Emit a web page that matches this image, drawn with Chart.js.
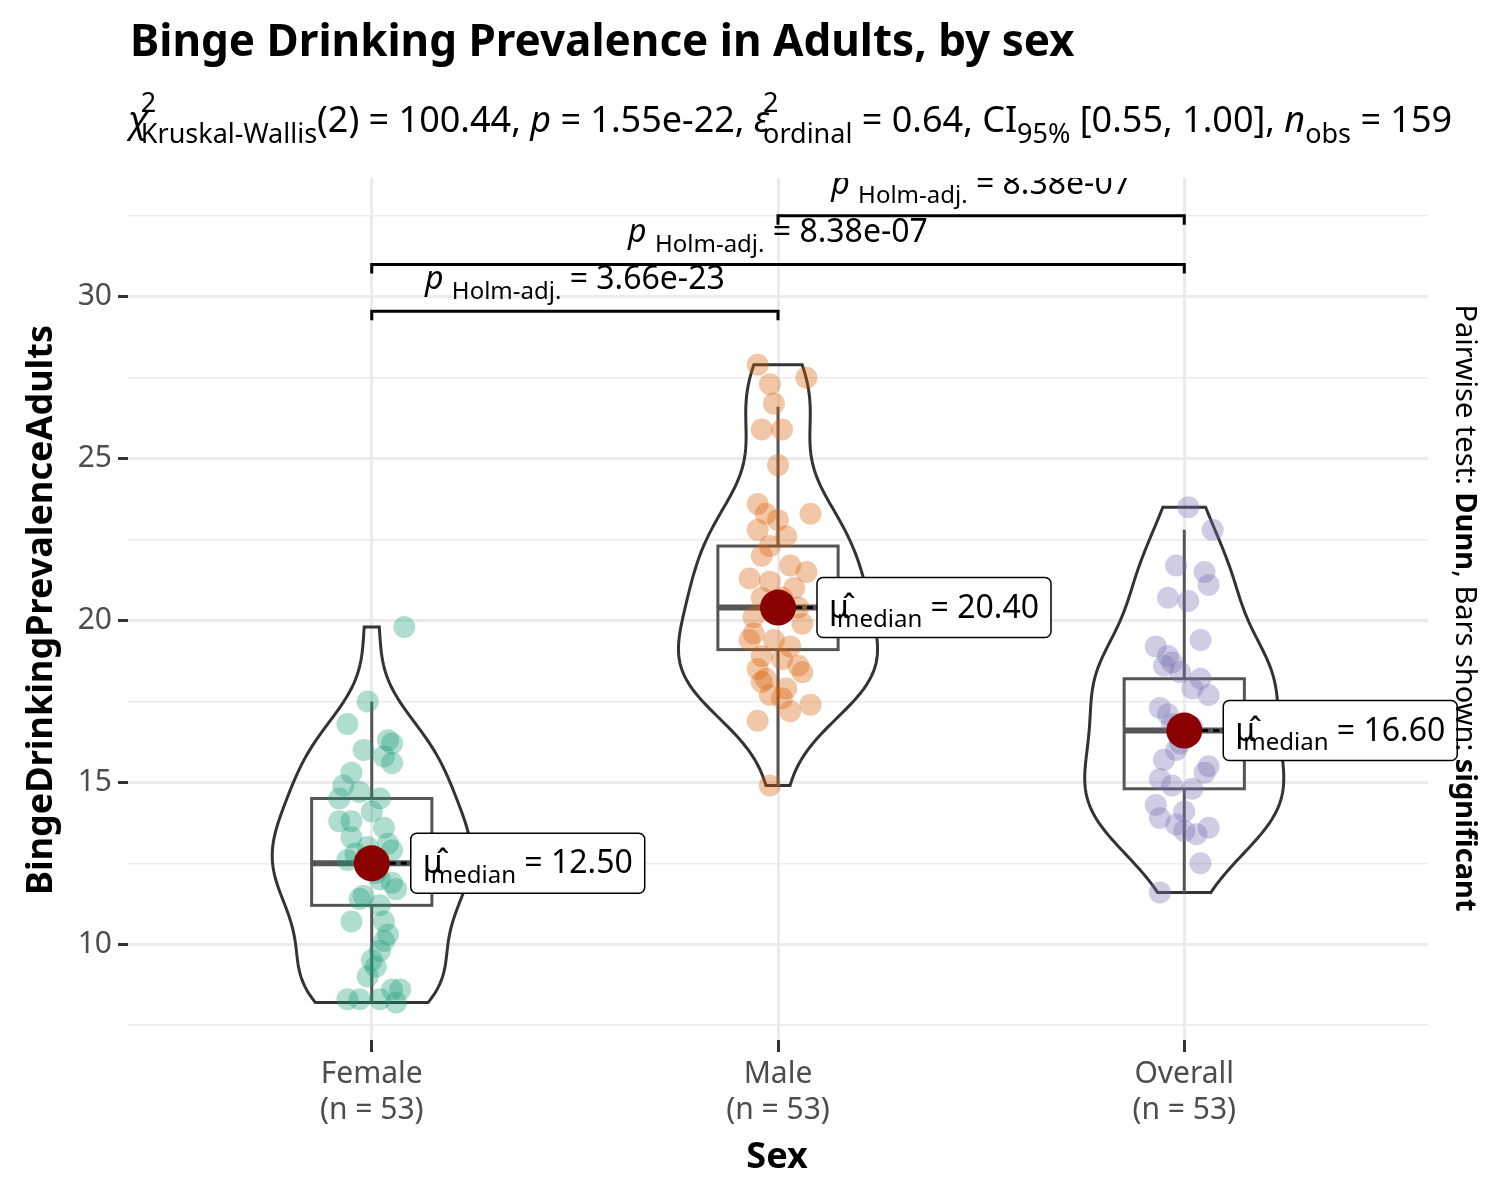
<!DOCTYPE html>
<html><head><meta charset="utf-8">
<script src="https://cdn.jsdelivr.net/npm/chart.js@4.4.1/dist/chart.umd.min.js"></script>
<style>html,body{margin:0;padding:0;background:#fff}#w{width:1500px;height:1200px}</style>
</head><body><div id="w"><canvas id="c"></canvas></div>
<script>
const categories = ['Female','Male','Overall'];
const counts = [53,53,53];
const femaleVals = [19.8,17.5,16.8,16.3,16.0,15.6,15.3,14.9,14.5,14.5,14.1,13.8,13.8,13.6,13.3,13.0,12.9,12.6,12.3,12.0,11.7,11.5,11.2,10.7,10.7,10.3,9.8,9.5,9.3,9.0,8.6,8.6,8.3,8.3,8.2,8.3,16.2,15.8,14.7,13.1,12.8,12.2,11.9,11.4,10.1];
const femaleJit = [0.08,-0.01,-0.06,0.04,-0.02,0.05,-0.05,-0.07,-0.08,0.02,0,-0.05,-0.08,0.03,-0.05,-0.01,0.05,-0.06,0,0.02,0.06,-0.02,0.02,-0.05,0.03,0.04,0.02,0,0.01,-0.01,0.07,0.05,-0.06,-0.03,0.06,0.02,0.05,0.03,-0.03,0.04,-0.04,0.01,0.05,-0.03,0.03];
const maleVals = [27.9,27.5,27.3,26.7,25.9,25.9,24.8,23.6,23.3,23.3,23.1,22.8,22.3,22.0,21.7,21.3,21.2,21.5,20.7,20.7,20.1,19.9,19.4,19.4,19.2,18.9,18.8,18.5,18.4,18.2,18.1,17.9,17.6,17.4,17.2,16.9,14.9,20.4,19.6,21.0,22.6,18.6,17.7];
const maleJit = [-0.05,0.07,-0.02,-0.01,-0.04,0.01,0,-0.05,-0.03,0.08,0,-0.05,-0.02,-0.04,0.03,-0.07,-0.02,0.07,-0.04,0.01,-0.06,0.06,-0.07,-0.01,0.03,-0.04,0.01,-0.05,0.06,-0.03,-0.04,0.02,0.01,0.08,0.03,-0.05,-0.02,0.05,-0.06,0.04,0.02,0.05,-0.02];
const overallVals = [23.5,22.8,21.7,21.5,21.1,20.7,20.6,19.4,19.2,18.9,18.6,18.4,18.2,17.9,17.7,17.3,16.8,16.7,16.2,15.7,15.5,15.1,14.9,14.8,14.3,13.9,13.7,13.6,13.4,13.5,12.5,11.6,18.7,17.1,16.0,15.3,14.1];
const overallJit = [0.01,0.07,-0.02,0.05,0.06,-0.04,0.01,0.04,-0.07,-0.04,-0.05,-0.01,0.04,0.02,0.06,-0.06,-0.03,0.02,-0.01,-0.05,0.06,-0.06,-0.03,0.02,-0.07,-0.06,-0.02,0.06,0.03,0,0.04,-0.06,-0.03,-0.04,-0.02,0.05,0.0];
const groupVals = [femaleVals, maleVals, overallVals];
const groupJit = [femaleJit, maleJit, overallJit];
const medians = [12.5,20.4,16.6];
const q1s = [11.2,19.1,14.8];
const q3s = [14.5,22.3,18.2];
const whiskLo = [8.2,14.9,11.6];
const whiskHi = [17.5,26.6,22.8];
const medianLabels = ['12.50','20.40','16.60'];
const pairs = [[1,2,29.55,'3.66e-23'],[1,3,31.0,'8.38e-07'],[2,3,32.5,'8.38e-07']];
const colors = ['27,158,119','217,95,2','117,112,179'];
const yTicks = [7.5,10,12.5,15,17.5,20,22.5,25,27.5,30,32.5];
const FONT = '"Noto Sans", "Open Sans", sans-serif';

const scatterSets = groupVals.map((vals,g)=>({
  type:'scatter',
  data: vals.map((v,i)=>({x:g+1+groupJit[g][i], y:v})),
  backgroundColor:`rgba(${colors[g]},0.35)`, borderWidth:0, pointRadius:11, order:2
}));
const meanSet = {type:'scatter', data: medians.map((m,i)=>({x:i+1,y:m})), backgroundColor:'#8b0000', borderWidth:0, pointRadius:18, order:1};

function rich(ctx, x, y, parts, size){
  for(const p of parts){
    if(p.ss){
      const s = size*0.75;
      ctx.font = `${s}px ${FONT}`;
      const w1 = p.sup? ctx.measureText(p.sup).width:0;
      const w2 = p.sub? ctx.measureText(p.sub).width:0;
      if(p.sup) ctx.fillText(p.sup, x - (p.back||0), y - size*0.55);
      if(p.sub) ctx.fillText(p.sub, x - (p.back||0), y + size*0.3);
      x += Math.max(w1,w2) - (p.back||0);
    } else {
      ctx.font = `${p.it?'italic ':''}${p.b?'bold ':''}${size}px ${FONT}`;
      ctx.fillText(p.t, x, y);
      x += ctx.measureText(p.t).width;
    }
  }
  return x;
}
function richWidth(ctx, parts, size){
  const c = document.createElement('canvas').getContext('2d');
  return rich(c, 0, 0, parts, size);
}

const drawPlugin = {
  id:'violins',
  beforeDatasetsDraw(chart){
    const ctx = chart.ctx, xs = chart.scales.x, ys = chart.scales.y;
    ctx.save();
    groupVals.forEach((vals,g)=>{
      const n = vals.length, mean = vals.reduce((a,b)=>a+b,0)/n;
      const sd = Math.sqrt(vals.reduce((a,b)=>a+(b-mean)**2,0)/(n-1));
      const h = 0.85*sd*Math.pow(n,-0.2);
      const lo = Math.min(...vals), hi = Math.max(...vals);
      const pts = [];
      for(let k=0;k<=100;k++){
        const y = lo+(hi-lo)*k/100;
        let d=0; vals.forEach(v=>d+=Math.exp(-0.5*((y-v)/h)**2));
        pts.push([y,d]);
      }
      const mx = Math.max(...pts.map(p=>p[1]));
      const half = 0.245;
      ctx.beginPath();
      pts.forEach((p,k)=>{const px=xs.getPixelForValue(g+1+half*p[1]/mx), py=ys.getPixelForValue(p[0]); k?ctx.lineTo(px,py):ctx.moveTo(px,py);});
      for(let k=pts.length-1;k>=0;k--){const p=pts[k]; ctx.lineTo(xs.getPixelForValue(g+1-half*p[1]/mx), ys.getPixelForValue(p[0]));}
      ctx.closePath();
      ctx.strokeStyle='#333'; ctx.lineWidth=3; ctx.stroke();
      const bw=0.148, cx=xs.getPixelForValue(g+1);
      const l=xs.getPixelForValue(g+1-bw), r=xs.getPixelForValue(g+1+bw);
      ctx.strokeStyle='#555'; ctx.lineWidth=3;
      ctx.beginPath();
      ctx.moveTo(cx,ys.getPixelForValue(whiskLo[g])); ctx.lineTo(cx,ys.getPixelForValue(q1s[g]));
      ctx.moveTo(cx,ys.getPixelForValue(q3s[g])); ctx.lineTo(cx,ys.getPixelForValue(whiskHi[g]));
      ctx.stroke();
      ctx.strokeRect(l, ys.getPixelForValue(q3s[g]), r-l, ys.getPixelForValue(q1s[g])-ys.getPixelForValue(q3s[g]));
      ctx.lineWidth=6; ctx.beginPath();
      ctx.moveTo(l,ys.getPixelForValue(medians[g])); ctx.lineTo(r,ys.getPixelForValue(medians[g])); ctx.stroke();
    });
    ctx.restore();
  },
  afterDatasetsDraw(chart){
    const ctx = chart.ctx, xs = chart.scales.x, ys = chart.scales.y, a = chart.chartArea;
    ctx.save();
    ctx.textBaseline='alphabetic'; ctx.fillStyle='#000';
    medians.forEach((m,g)=>{
      const cx = xs.getPixelForValue(g+1), cy = ys.getPixelForValue(m);
      const parts=[{t:'μ̂'},{ss:true,sub:'median',back:12},{t:' = '+medianLabels[g]}];
      const w = richWidth(ctx,parts,32)+24, bx = cx+39, bh=60;
      ctx.setLineDash([6,5]); ctx.strokeStyle='#000'; ctx.lineWidth=3;
      ctx.beginPath(); ctx.moveTo(cx+18,cy); ctx.lineTo(bx,cy); ctx.stroke(); ctx.setLineDash([]);
      ctx.fillStyle='#fff'; ctx.lineWidth=1.5;
      ctx.beginPath(); ctx.roundRect(bx, cy-bh/2, w, bh, 6); ctx.fill(); ctx.stroke();
      ctx.fillStyle='#000';
      rich(ctx, bx+12, cy+10, parts, 32);
    });
    ctx.save();
    ctx.beginPath(); ctx.rect(a.left, a.top, a.right-a.left, a.bottom-a.top); ctx.clip();
    pairs.forEach(([i,j,yv,pv])=>{
      const x1=xs.getPixelForValue(i), x2=xs.getPixelForValue(j), y=ys.getPixelForValue(yv);
      ctx.strokeStyle='#000'; ctx.lineWidth=3;
      ctx.beginPath(); ctx.moveTo(x1,y+9); ctx.lineTo(x1,y); ctx.lineTo(x2,y); ctx.lineTo(x2,y+9); ctx.stroke();
      const parts=[{t:'p',it:true},{t:' '},{ss:true,sub:'Holm-adj.'},{t:' = '+pv}];
      const w = richWidth(ctx,parts,32);
      rich(ctx,(x1+x2)/2-w/2, y-22, parts, 32);
    });
    ctx.restore();
    ctx.restore();
  },
  afterDraw(chart){
    const ctx=chart.ctx;
    ctx.save(); ctx.fillStyle='#000'; ctx.textBaseline='alphabetic';
    ctx.font=`bold 44px ${FONT}`; ctx.fillText('Binge Drinking Prevalence in Adults, by sex',130,56);
    rich(ctx,128,132,[{t:'χ',it:true},{ss:true,sup:'2',sub:'Kruskal-Wallis',back:8},{t:'(2) = 100.44, '},{t:'p',it:true},{t:' = 1.55e-22, '},{t:'ε',it:true},{ss:true,sup:'2',sub:'ordinal',back:6},{t:' = 0.64, CI'},{ss:true,sub:'95%'},{t:' [0.55, 1.00], '},{t:'n',it:true},{ss:true,sub:'obs'},{t:' = 159'}],36);
    ctx.save(); ctx.translate(52,610); ctx.rotate(-Math.PI/2); ctx.textAlign='center';
    ctx.font=`bold 36px ${FONT}`; ctx.fillText('BingeDrinkingPrevalenceAdults',0,0); ctx.restore();
    ctx.textAlign='center'; ctx.font=`bold 36px ${FONT}`; ctx.fillText('Sex',777,1168);
    ctx.textAlign='left';
    ctx.save(); ctx.translate(1456,608); ctx.rotate(Math.PI/2);
    const rp=[{t:'Pairwise test: '},{t:'Dunn',b:true},{t:', Bars shown: '},{t:'significant',b:true}];
    const w=richWidth(ctx,rp,29); rich(ctx,-w/2,0,rp,29); ctx.restore();
    ctx.restore();
  }
};

new Chart(document.getElementById('c'),{
  data:{datasets:[...scatterSets, meanSet]},
  options:{
    responsive:true, maintainAspectRatio:false, animation:false,
    layout:{padding:{top:178,right:72,left:0,bottom:0}},
    plugins:{legend:{display:false},tooltip:{enabled:false}},
    scales:{
      x:{type:'linear',min:0.4,max:3.6,
        afterBuildTicks:s=>{s.ticks=[1,2,3].map(v=>({value:v}));},
        afterFit:s=>{s.height=160;},
        ticks:{color:'#4d4d4d',font:{family:FONT,size:30},padding:4,
          callback:v=>[categories[v-1],'(n = '+counts[v-1]+')']},
        grid:{color:'#ebebeb',lineWidth:3,tickLength:12,tickColor:'#333',tickWidth:3},
        border:{display:false}},
      y:{type:'linear',min:7.04,max:33.67,
        afterBuildTicks:s=>{s.ticks=yTicks.map(v=>({value:v}));},
        afterFit:s=>{s.width=128;},
        ticks:{color:'#4d4d4d',font:{family:FONT,size:30},padding:6,
          callback:v=>(v%5===0? String(v):'')},
        grid:{color:'#ebebeb',lineWidth:c=>c.tick&&c.tick.value%5===0?3:1.5,tickLength:10,
          tickColor:c=>c.tick&&c.tick.value%5===0?'#333':'rgba(0,0,0,0)',tickWidth:3},
        border:{display:false}}
    }
  },
  plugins:[drawPlugin]
});
</script></body></html>
